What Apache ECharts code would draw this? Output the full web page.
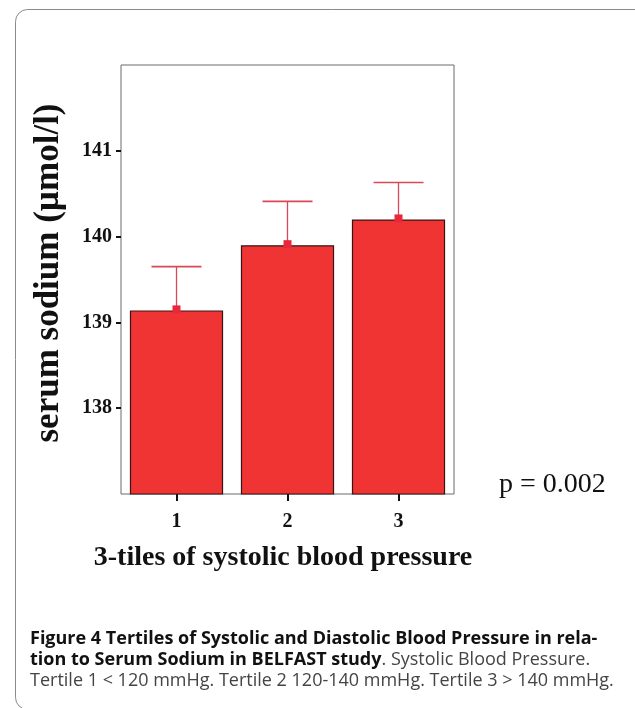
<!DOCTYPE html>
<html>
<head>
<meta charset="utf-8">
<script src="https://cdn.jsdelivr.net/npm/echarts@6/dist/echarts.min.js"></script>
<style>
html,body{margin:0;padding:0;background:#fff;}
#chart{width:635px;height:708px;}
</style>
</head>
<body>
<div id="chart"></div>
<script>
var categories = ['1', '2', '3'];
var meanValues = [139.14, 139.90, 140.20];
var upperValues = [139.65, 140.41, 140.63];
var yTickValues = [138, 139, 140, 141];

var chart = echarts.init(document.getElementById('chart'), null, {renderer: 'canvas'});

var serif = '"Liberation Serif", "Times New Roman", serif';
var sans = '"Open Sans", "Noto Sans", sans-serif';

var option = {
  backgroundColor: '#ffffff',
  animation: false,
  grid: {
    left: 121, right: 181, top: 65, bottom: 214,
    show: true, borderColor: '#6a6a6a', borderWidth: 1, backgroundColor: 'transparent'
  },
  xAxis: {
    type: 'category',
    data: categories,
    axisLine: {show: false},
    axisTick: {show: true, alignWithLabel: true, length: 7, lineStyle: {color: '#111', width: 2}},
    axisLabel: {margin: 18, fontFamily: serif, fontWeight: 'bold', fontSize: 20, color: '#111'}
  },
  yAxis: {
    type: 'value',
    min: 137, max: 142, interval: 1,
    splitLine: {show: false},
    axisLine: {show: false},
    axisTick: {show: true, length: 5, lineStyle: {color: '#111', width: 2}, customValues: yTickValues},
    axisLabel: {margin: 9, fontFamily: serif, fontWeight: 'bold', fontSize: 20, color: '#111', customValues: yTickValues}
  },
  series: [
    {
      type: 'bar',
      data: meanValues,
      barCategoryGap: '16%',
      itemStyle: {color: '#f03434', borderColor: '#3a1414', borderWidth: 1.2}
    },
    {
      type: 'custom',
      data: categories.map(function (c, i) { return [i, meanValues[i], upperValues[i]]; }),
      encode: {x: 0, y: [1, 2]},
      z: 5,
      renderItem: function (params, api) {
        var base = api.coord([api.value(0), api.value(1)]);
        var top = api.coord([api.value(0), api.value(2)]);
        var half = 25;
        var col = '#d9485a';
        return {
          type: 'group',
          children: [
            {type: 'line', shape: {x1: base[0], y1: base[1], x2: top[0], y2: top[1]}, style: {stroke: col, lineWidth: 1.3}},
            {type: 'line', shape: {x1: top[0] - half, y1: top[1], x2: top[0] + half, y2: top[1]}, style: {stroke: col, lineWidth: 1.6}},
            {type: 'rect', shape: {x: base[0] - 4, y: base[1] - 5, width: 8, height: 8}, style: {fill: '#e8283a'}}
          ]
        };
      }
    }
  ],
  graphic: [
    {type: 'rect', left: 13, top: 7, shape: {x: 0, y: 0, width: 640, height: 700, r: 12}, style: {fill: 'none', stroke: '#8a8a8a', lineWidth: 1}, silent: true},
    {type: 'text', x: 49, y: 273, rotation: Math.PI / 2,
      style: {text: 'serum sodium (\u00b5mol/l)', font: 'bold 35px ' + serif, fill: '#111', textAlign: 'center', textVerticalAlign: 'middle'}},
    {type: 'text', x: 283, y: 558,
      style: {text: '3-tiles of systolic blood pressure', font: 'bold 28px ' + serif, fill: '#111', textAlign: 'center', textVerticalAlign: 'middle'}},
    {type: 'text', x: 499, y: 485,
      style: {text: 'p = 0.002', font: '28px ' + serif, fill: '#111', textAlign: 'left', textVerticalAlign: 'middle'}},
    {type: 'text', x: 30, y: 639,
      style: {text: 'Figure 4 Tertiles of Systolic and Diastolic Blood Pressure in rela-', font: 'bold 18px ' + sans, fill: '#111', textAlign: 'left', textVerticalAlign: 'middle'}},
    {type: 'text', x: 30, y: 660,
      style: {text: '{b|tion to Serum Sodium in BELFAST study}{r|. Systolic Blood Pressure.}', textAlign: 'left', textVerticalAlign: 'middle',
        rich: {b: {font: 'bold 18px ' + sans, fill: '#111'}, r: {font: '18px ' + sans, fill: '#444'}}}},
    {type: 'text', x: 30, y: 681,
      style: {text: 'Tertile 1 < 120 mmHg. Tertile 2 120-140 mmHg. Tertile 3 > 140 mmHg.', font: '18px ' + sans, fill: '#444', textAlign: 'left', textVerticalAlign: 'middle'}}
  ]
};
chart.setOption(option);
</script>
</body>
</html>
